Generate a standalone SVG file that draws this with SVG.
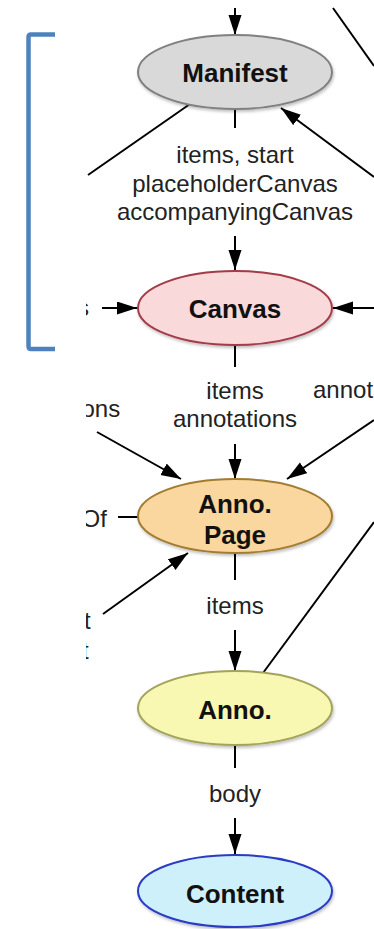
<svg xmlns="http://www.w3.org/2000/svg" width="374" height="929" viewBox="0 0 374 929">
<style>
.lbl{font-family:"Liberation Sans",Arial,Helvetica,sans-serif;font-size:24px;fill:#222;text-anchor:middle}
.frag{font-family:"Liberation Sans",Arial,Helvetica,sans-serif;font-size:24px;fill:#222}
.nt{font-family:"Liberation Sans",Arial,Helvetica,sans-serif;font-size:26px;font-weight:bold;fill:#111;text-anchor:middle}
.c{stroke:#000;stroke-width:2;fill:none}
.a{marker-end:url(#ah)}
.node{stroke-width:2;filter:url(#sh)}
</style>
<defs>
<marker id="ah" markerUnits="userSpaceOnUse" markerWidth="22" markerHeight="16" refX="20" refY="6.5" orient="auto">
<path d="M0,0 L20,6.5 L0,13 z" fill="#000"/>
</marker>
<filter id="sh" x="-10%" y="-10%" width="120%" height="130%">
<feDropShadow dx="1" dy="2" stdDeviation="1.5" flood-color="#000" flood-opacity="0.25"/>
</filter>
<clipPath id="lc"><rect x="86" y="0" width="288" height="929"/></clipPath>
</defs>
<rect width="374" height="929" fill="#fff"/>

<path id="bracket" d="M55,34.5 L31,34.5 Q28.5,34.5 28.5,37 L28.5,346 Q28.5,349 31,349 L55,349" fill="none" stroke="#4f81bd" stroke-width="4.5"/>

<g id="connectors">
<line class="c a" x1="235" y1="8" x2="235" y2="35"/>
<line class="c" x1="333" y1="8" x2="374" y2="66"/>
<line class="c" x1="190" y1="104" x2="88" y2="175"/>
<line class="c a" x1="374" y1="177" x2="281" y2="108"/>
<line class="c" x1="235" y1="109" x2="235" y2="128"/>
<line class="c a" x1="235" y1="236" x2="235" y2="270"/>
<line class="c a" x1="102" y1="308" x2="137" y2="308"/>
<line class="c a" x1="374" y1="308" x2="333" y2="308"/>
<line class="c" x1="235" y1="345" x2="235" y2="367"/>
<line class="c a" x1="235" y1="444" x2="235" y2="479"/>
<line class="c a" x1="97" y1="432" x2="181" y2="479"/>
<line class="c a" x1="374" y1="420" x2="287" y2="479"/>
<line class="c" x1="118" y1="517" x2="138" y2="517"/>
<line class="c a" x1="103" y1="614" x2="188" y2="553"/>
<line class="c" x1="235" y1="553" x2="235" y2="580"/>
<line class="c a" x1="235" y1="630" x2="235" y2="671"/>
<line class="c" x1="263" y1="673" x2="374" y2="522"/>
<line class="c" x1="235" y1="745" x2="235" y2="768"/>
<line class="c a" x1="235" y1="818" x2="235" y2="854"/>
</g>

<g id="edge-labels">
<text class="lbl" x="235" y="163">items, start</text>
<text class="lbl" x="235" y="192">placeholderCanvas</text>
<text class="lbl" x="235" y="220">accompanyingCanvas</text>
<text class="lbl" x="235" y="399">items</text>
<text class="lbl" x="235" y="427">annotations</text>
<text class="frag" x="313" y="398">annot</text>
<text class="lbl" x="235" y="614">items</text>
<text class="lbl" x="235" y="802">body</text>
<g clip-path="url(#lc)">
<text class="frag" x="77" y="316">s</text>
<text class="frag" x="81.5" y="417">ons</text>
<text class="frag" x="81.5" y="527">Of</text>
<text class="frag" x="84" y="629">t</text>
<text class="frag" x="82" y="659">t</text>
</g>
</g>

<g id="manifest">
<ellipse class="node" cx="235" cy="72" rx="97" ry="37" fill="#d9d9d9" stroke="#808080"/>
<text class="nt" x="235" y="82">Manifest</text>
</g>
<g id="canvas">
<ellipse class="node" cx="235" cy="308" rx="97" ry="37" fill="#f9d9d9" stroke="#a33a48"/>
<text class="nt" x="235" y="318">Canvas</text>
</g>
<g id="anno-page">
<ellipse class="node" cx="235" cy="516" rx="97" ry="37" fill="#f9d79e" stroke="#a37c30"/>
<text class="nt" x="235" y="513">Anno.</text>
<text class="nt" x="235" y="544">Page</text>
</g>
<g id="anno">
<ellipse class="node" cx="235" cy="708" rx="97" ry="37" fill="#f8f8b2" stroke="#a3a35a"/>
<text class="nt" x="235" y="719">Anno.</text>
</g>
<g id="content">
<ellipse class="node" cx="235" cy="891" rx="97" ry="36" fill="#cdf0fb" stroke="#2a3ac4"/>
<text class="nt" x="235" y="903">Content</text>
</g>
</svg>
